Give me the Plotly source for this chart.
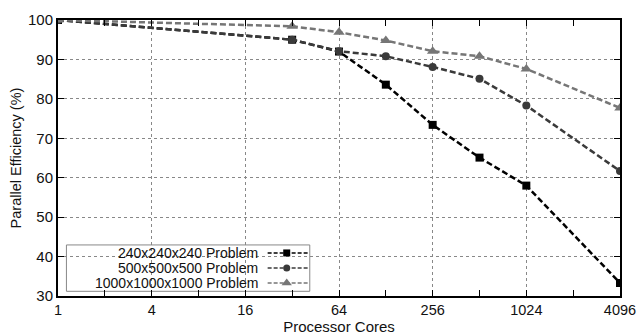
import plotly.graph_objects as go

cores = [1, 32, 64, 128, 256, 512, 1024, 4096]
eff_240 = [100, 95.0, 92.0, 83.6, 73.4, 65.1, 58.0, 33.3]
eff_500 = [100, 95.0, 92.1, 90.8, 88.1, 85.1, 78.3, 61.7]
eff_1000 = [100, 98.4, 96.9, 94.8, 92.1, 90.8, 87.6, 77.7]
names = ["240x240x240 Problem", "500x500x500 Problem", "1000x1000x1000 Problem"]
colors = ["#000000", "#3a3a3a", "#767676"]
symbols = ["square", "circle", "triangle-up"]
sizes = [8, 8, 10]
x_ticks = [1, 4, 16, 64, 256, 1024, 4096]
x_minor = [2, 8, 32, 128, 512, 2048]

FONT = "Liberation Sans, Arial, sans-serif"
fig = go.Figure()
for ys, nm, c, s, sz in zip([eff_240, eff_500, eff_1000], names, colors, symbols, sizes):
    fig.add_trace(go.Scatter(x=cores, y=ys, name=nm, mode="lines+markers",
                             line=dict(color=c, width=2.5, dash="6px,3px"),
                             marker=dict(symbol=s, size=sz, color=c),
                             showlegend=False))

# manual legend (gnuplot style: text then sample)
leg_y = [0.156, 0.101, 0.047]
for nm, c, s, sz, ly in zip(names, colors, symbols, sizes, leg_y):
    fig.add_trace(go.Scatter(x=[0.373, 0.446], y=[ly, ly], mode="lines", xaxis="x2", yaxis="y2",
                             line=dict(color=c, width=1.5, dash="4px,2px"), showlegend=False, hoverinfo="skip"))
    fig.add_trace(go.Scatter(x=[0.407], y=[ly], mode="markers", xaxis="x2", yaxis="y2",
                             marker=dict(symbol=s, size=sz - 1, color=c), showlegend=False, hoverinfo="skip"))
    fig.add_annotation(x=0.357, y=ly, xref="paper", yref="paper", text=nm, showarrow=False,
                       xanchor="right", yanchor="middle", borderpad=0,
                       font=dict(family=FONT, size=14, color="#111"))
fig.add_shape(type="rect", xref="paper", yref="paper", x0=0.015, x1=0.448, y0=0.017, y1=0.185,
              line=dict(color="#888", width=1), fillcolor="white", layer="below")

fig.update_layout(
    width=640, height=336, margin=dict(l=58, r=20, t=20, b=40),
    plot_bgcolor="white", paper_bgcolor="white",
    font=dict(family=FONT, size=15, color="#111"),
    xaxis=dict(type="log", range=[0, 3.6124], tickvals=x_ticks, ticktext=[str(v) for v in x_ticks],
               showgrid=True, gridcolor="#888", griddash="dot", gridwidth=1,
               ticks="inside", ticklen=6, tickcolor="#000", showline=True, linecolor="#000", linewidth=2,
               mirror="allticks", zeroline=False, automargin=False, ticklabelstandoff=0,
               tickfont=dict(size=14.5),
               minor=dict(tickvals=x_minor, ticks="inside", ticklen=6, tickcolor="#000", showgrid=False),
               title=dict(text="Processor Cores", font=dict(size=15), standoff=4)),
    yaxis=dict(range=[30, 100], dtick=10, showgrid=True, gridcolor="#888", griddash="dot", gridwidth=1,
               ticks="inside", ticklen=6, tickcolor="#000", showline=True, linecolor="#000", linewidth=2,
               mirror="allticks", zeroline=False, automargin=False, tickfont=dict(size=15),
               title=dict(text="Parallel Efficiency (%)", font=dict(size=14.5), standoff=3)),
    xaxis2=dict(overlaying="x", range=[0, 1], visible=False),
    yaxis2=dict(overlaying="y", range=[0, 1], visible=False),
)
fig.write_html("out.html")
